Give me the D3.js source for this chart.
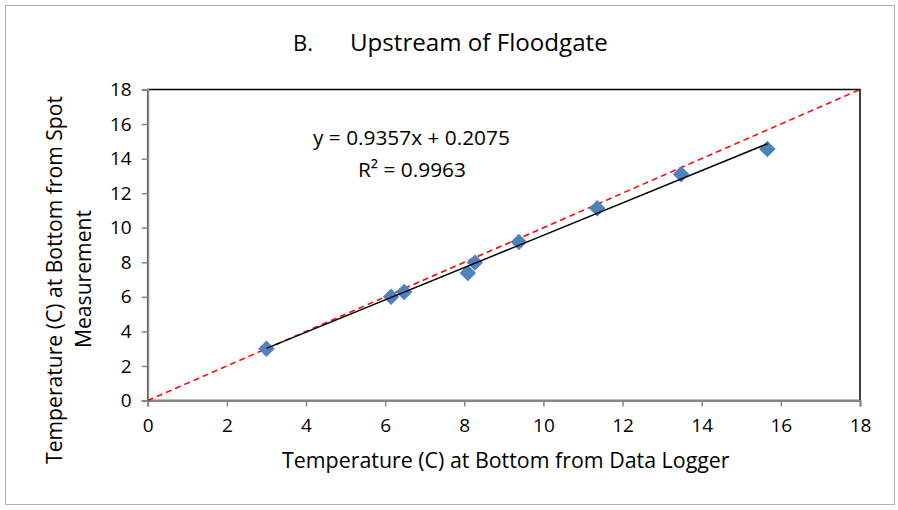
<!DOCTYPE html>
<html><head><meta charset="utf-8">
<script src="https://cdn.jsdelivr.net/npm/d3@7"></script>
<style>body{margin:0;background:#fff}svg text{font-family:"Open Sans",sans-serif;fill:#000}</style>
</head><body>
<svg id="c" width="898" height="510"></svg>
<script>
const xTicks = [0,2,4,6,8,10,12,14,16,18];
const yTicks = [0,2,4,6,8,10,12,14,16,18];
const loggerTemp = [3.0, 6.15, 6.48, 8.09, 8.27, 9.38, 11.36, 13.48, 15.66];
const spotTemp   = [3.0, 6.0, 6.28, 7.38, 7.98, 9.18, 11.12, 13.09, 14.55];
const slope = 0.9357, intercept = 0.2075;
const titleText = ["B.", "Upstream of Floodgate"];
const eqText = "y = 0.9357x + 0.2075";
const r2Text = "R² = 0.9963";
const xLabel = "Temperature (C) at Bottom from Data Logger";
const yLabel = ["Temperature (C) at Bottom from Spot", "Measurement"];

const svg = d3.select("#c");
const L = 147.7, R = 860, T = 89.5, B = 400.5;
const x = d3.scaleLinear().domain([0,18]).range([L,R]);
const y = d3.scaleLinear().domain([0,18]).range([B,T]);

function fit(sel, w){
  sel.attr("font-size",20);
  const m = sel.node().getComputedTextLength();
  const f = 20*w/m;
  sel.attr("font-size", f);
  return f;
}

svg.append("rect").attr("x",5.5).attr("y",5.5).attr("width",889).attr("height",499)
  .attr("fill","#fff").attr("stroke","#b3b3b3").attr("stroke-width",1);

svg.append("rect").attr("x",L).attr("y",T).attr("width",R-L).attr("height",B-T)
  .attr("fill","none").attr("stroke","#000").attr("stroke-width",1.5);

const xAxis = svg.append("g").attr("transform",`translate(0,${B})`)
  .call(d3.axisBottom(x).tickValues(xTicks).tickSize(6).tickPadding(12).tickFormat(d3.format("d")));
const yAxis = svg.append("g").attr("transform",`translate(${L},0)`)
  .call(d3.axisLeft(y).tickValues(yTicks).tickSize(6).tickPadding(10).tickFormat(d3.format("d")));
[xAxis,yAxis].forEach(g=>{
  g.select(".domain").attr("stroke","#868686").attr("stroke-width",2);
  g.selectAll(".tick line").attr("stroke","#868686").attr("stroke-width",1.5);
  g.selectAll(".tick text").attr("font-size",19).attr("font-family","'Open Sans', sans-serif").attr("fill","#000");
});

svg.append("line").attr("x1",x(0)).attr("y1",y(0)).attr("x2",x(18)).attr("y2",y(18))
  .attr("stroke","#ff0000").attr("stroke-width",1.5).attr("stroke-dasharray","6,4");

const dsym = d3.symbol().type(d3.symbolSquare).size(136);
svg.append("g").selectAll("path").data(loggerTemp.map((v,i)=>[v,spotTemp[i]])).join("path")
  .attr("d",dsym).attr("transform",d=>`translate(${x(d[0])},${y(d[1])}) rotate(45)`)
  .attr("fill","#4f81bd");

const xmin = d3.min(loggerTemp), xmax = d3.max(loggerTemp);
svg.append("line").attr("x1",x(xmin)).attr("y1",y(slope*xmin+intercept))
  .attr("x2",x(xmax)).attr("y2",y(slope*xmax+intercept))
  .attr("stroke","#000").attr("stroke-width",1.5);

fit(svg.append("text").attr("x",293).attr("y",51).text(titleText[0]),20);
fit(svg.append("text").attr("x",350).attr("y",51).text(titleText[1]),258);

fit(svg.append("text").attr("x",313).attr("y",145).text(eqText),197);
fit(svg.append("text").attr("x",358).attr("y",177).text(r2Text),108);

fit(svg.append("text").attr("x",282).attr("y",468).text(xLabel),448);
const yf = fit(svg.append("text").attr("transform","translate(62,280) rotate(-90)").attr("text-anchor","middle").text(yLabel[0]),368);
svg.append("text").attr("transform","translate(91,279) rotate(-90)").attr("text-anchor","middle").attr("font-size",yf).text(yLabel[1]);
</script>
</body></html>
